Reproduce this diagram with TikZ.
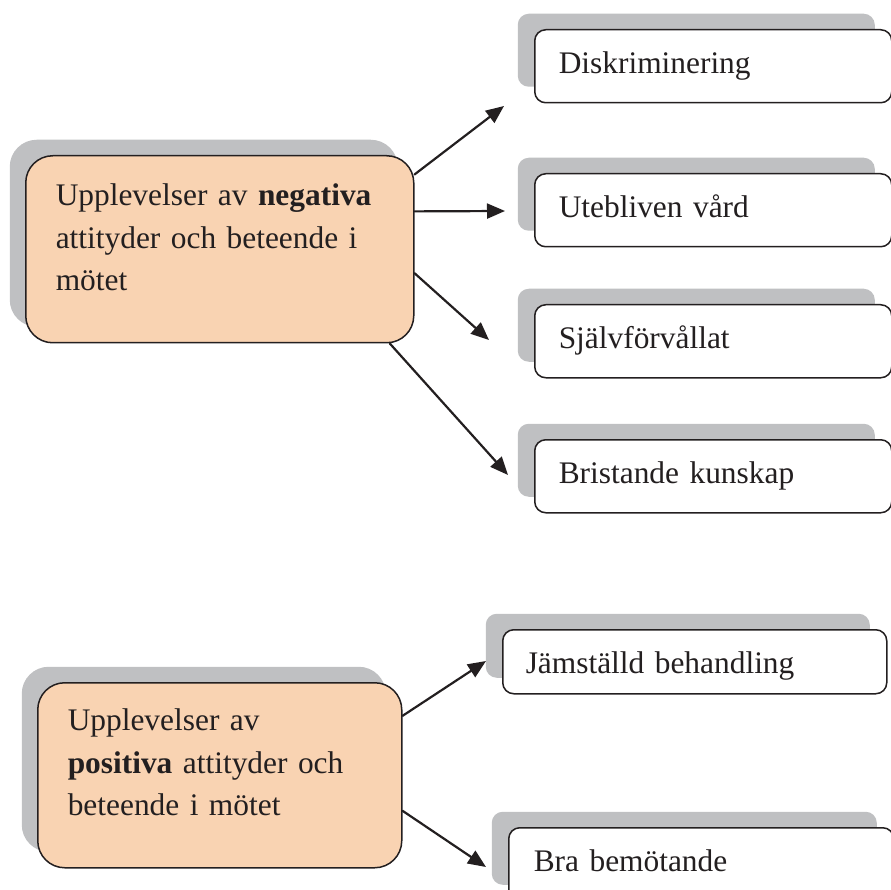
\documentclass[tikz,border=0pt]{standalone}
\usepackage{fontspec}
\setmainfont{Liberation Serif}
\usetikzlibrary{arrows.meta,shadows}
\definecolor{peach}{RGB}{249,211,178}
\definecolor{shadegray}{RGB}{191,192,194}
\definecolor{inkline}{RGB}{35,31,32}

\tikzset{
	bigbox/.style={draw=inkline,line width=1.5pt,fill=peach,rounded corners=27pt,anchor=north west,align=left,inner xsep=30pt,inner ysep=0pt,text=inkline,font=\fontsize{31.4}{42.5}\selectfont,drop shadow={shadow xshift=-16pt,shadow yshift=16pt,fill=shadegray,opacity=1}},
	smallbox/.style={draw=inkline,line width=1.5pt,fill=white,rounded corners=11pt,anchor=north west,align=left,inner xsep=24pt,inner ysep=0pt,text height=44pt,text depth=29pt,text=inkline,font=\fontsize{31.4}{42.5}\selectfont,drop shadow={shadow xshift=-17pt,shadow yshift=16pt,fill=shadegray,opacity=1}},
	arr/.style={draw=inkline,line width=2.2pt,-{Triangle[length=18pt,width=15pt]}}
}

\begin{document}
\begin{tikzpicture}[line cap=round,line join=round,x=1pt,y=-1pt]
		\useasboundingbox (0,0) rectangle (891,890);
		% negative experiences
		\node[bigbox,text width=328pt,text height=50pt,text depth=137pt] (neg) at (25,155) {Upplevelser av \textbf{negativa}\\attityder och beteende i\\mötet};
		\node[smallbox,text width=309pt] (disk) at (534,29) {Diskriminering};
		\node[smallbox,text width=309pt] (uteb) at (534,173) {Utebliven vård};
		\node[smallbox,text width=309pt] (sjalv) at (534,304) {Självförvållat};
		\node[smallbox,text width=309pt] (brist) at (534,439) {Bristande kunskap};
		\coordinate (t1) at (504,106);
		\coordinate (t2) at (505,211);
		\coordinate (t3) at (489,340);
		\coordinate (t4) at (508,475);
		\draw[arr] (neg.21) -- (t1);
		\draw[arr] (neg.11) -- (t2);
		\draw[arr] (neg.-7.2) -- (t3);
		\draw[arr] (neg.-29) -- (t4);
		% positive experiences
		\node[bigbox,text width=304pt,text height=48pt,text depth=137pt] (pos) at (37,682) {Upplevelser av\\\textbf{positiva} attityder och\\beteende i mötet};
		\node[smallbox,text width=338pt,inner xsep=23pt,text depth=20pt] (jamst) at (502,629) {Jämställd behandling};
		\node[smallbox,text width=335pt,inner xsep=25pt] (bra) at (508,827) {Bra bemötande};
		\coordinate (t5) at (486,661);
		\coordinate (t6) at (486,867);
		\draw[arr] (pos.18.7) -- (t5);
		\draw[arr] (pos.-11) -- (t6);
	\end{tikzpicture}
\end{document}
